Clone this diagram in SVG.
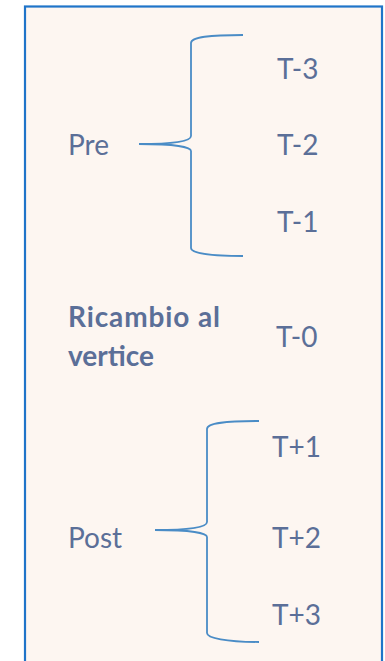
<svg xmlns="http://www.w3.org/2000/svg" width="385" height="661" viewBox="0 0 385 661">
<style>
.t{font-family:"Lato","Liberation Sans",sans-serif;font-size:28px;fill:#5b6f98}
.b{font-weight:bold}
.br{fill:none;stroke:#4a8cc6;stroke-width:1.8}
</style>
<rect x="0" y="0" width="385" height="661" fill="#ffffff"/>
<g id="frame">
<rect x="25" y="6.5" width="357" height="670" fill="#fdf6f1" stroke="#1f74c9" stroke-width="2.2"/>
</g>
<g id="connectors">
<path class="br" d="M243,35 C210,35 191,37 191,43 L191,136 C191,141 175,144 139,144 C175,144 191,147 191,151 L191,248 C191,253 210,256 243,256"/>
<path class="br" d="M259,421 C226,421 207,423 207,429 L207,522 C207,527 191,530 155,530 C191,530 207,533 207,537 L207,633 C207,638 226,642 259,642"/>
</g>
<g id="pre"><text class="t" x="68" y="155">Pre</text></g>
<g id="t-3"><text class="t" x="277" y="79">T-3</text></g>
<g id="t-2"><text class="t" x="277" y="155">T-2</text></g>
<g id="t-1"><text class="t" x="277" y="231.5">T-1</text></g>
<g id="ricambio"><text class="t b" x="68" y="326.5" textLength="152" lengthAdjust="spacing">Ricambio al</text><text class="t b" x="68" y="366">vertice</text></g>
<g id="t-0"><text class="t" x="276" y="346.5">T-0</text></g>
<g id="t+1"><text class="t" x="272" y="457">T+1</text></g>
<g id="post"><text class="t" x="68" y="547.5">Post</text></g>
<g id="t+2"><text class="t" x="272" y="547.5">T+2</text></g>
<g id="t+3"><text class="t" x="272" y="625">T+3</text></g>
</svg>
